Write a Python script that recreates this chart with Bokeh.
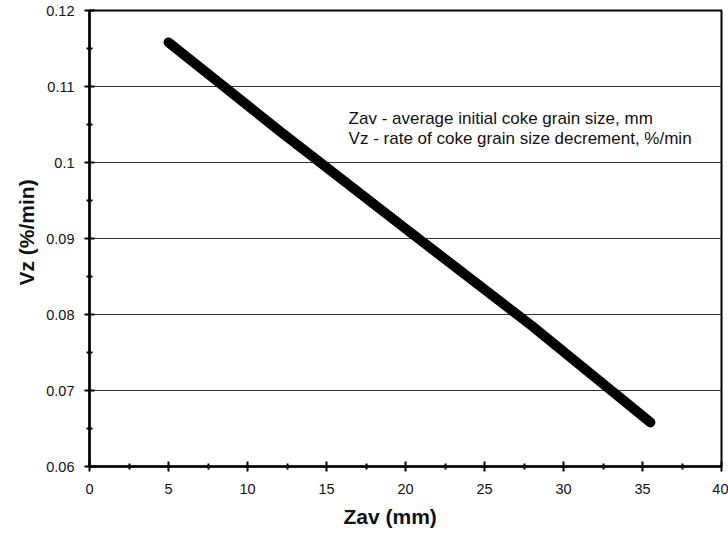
from bokeh.plotting import figure
from bokeh.models import Label, FixedTicker, Range1d, Title
from bokeh.embed import file_html
from bokeh.resources import INLINE

zav = [5.0, 12.0, 20.0, 28.0, 35.5]
vz = [0.1158, 0.1042, 0.0913, 0.0785, 0.0658]

x_ticks = [0, 5, 10, 15, 20, 25, 30, 35, 40]
y_ticks = [0.06, 0.07, 0.08, 0.09, 0.10, 0.11, 0.12]
y_tick_labels = ["0.06", "0.07", "0.08", "0.09", "0.1", "0.11", "0.12"]
note_lines = ["Zav - average initial coke grain size, mm",
              "Vz - rate of coke grain size decrement, %/min"]
x_title = "Zav (mm)"
y_title = "Vz (%/min)"

FONT = "Liberation Sans"

p = figure(width=728, height=535, output_backend="svg", toolbar_location=None,
           x_range=Range1d(0, 40), y_range=Range1d(0.06, 0.12),
           min_border_left=89, min_border_right=7, min_border_top=10, min_border_bottom=69)

p.line(zav, vz, line_width=10, line_color="black", line_cap="round", line_join="round")

p.outline_line_color = "black"
p.outline_line_width = 2
p.background_fill_color = "white"
p.border_fill_color = "white"

p.xgrid.visible = False
p.ygrid.ticker = FixedTicker(ticks=y_ticks)
p.ygrid.grid_line_color = "#333333"
p.ygrid.grid_line_width = 1

minor_x = [v + 2.5 for v in x_ticks[:-1]]
minor_y = [round(v + 0.005, 4) for v in y_ticks[:-1]]
p.xaxis.ticker = FixedTicker(ticks=x_ticks, minor_ticks=minor_x)
p.yaxis.ticker = FixedTicker(ticks=y_ticks, minor_ticks=minor_y)
p.yaxis.major_label_overrides = {t: l for t, l in zip(y_ticks, y_tick_labels)}

for ax in (p.xaxis, p.yaxis):
    ax.axis_line_color = "black"
    ax.axis_line_width = 2.5
    ax.major_tick_line_color = "black"
    ax.major_tick_line_width = 2
    ax.major_tick_in = 5
    ax.major_tick_out = 5
    ax.minor_tick_line_color = "black"
    ax.minor_tick_line_width = 2
    ax.minor_tick_in = 3
    ax.minor_tick_out = 3
    ax.major_label_text_font = FONT
    ax.major_label_text_font_size = "14.5px"
    ax.major_label_text_color = "#111111"

p.xaxis.major_label_standoff = 12
p.yaxis.major_label_standoff = 10

xt = Title(text=x_title, align="left", offset=254, standoff=12,
           text_font=FONT, text_font_size="21px", text_font_style="bold", text_color="#111111")
p.add_layout(xt, "below")
yt = Title(text=y_title, align="left", offset=181, standoff=12,
           text_font=FONT, text_font_size="21px", text_font_style="bold", text_color="#111111")
p.add_layout(yt, "left")

for i, txt in enumerate(note_lines):
    p.add_layout(Label(x=16.4, y=0.1058 - i * 0.0026, text=txt,
                       text_font=FONT, text_font_size="17px", text_color="#111111",
                       text_baseline="middle", text_align="left"))

open("out.html", "w").write(file_html(p, INLINE))
